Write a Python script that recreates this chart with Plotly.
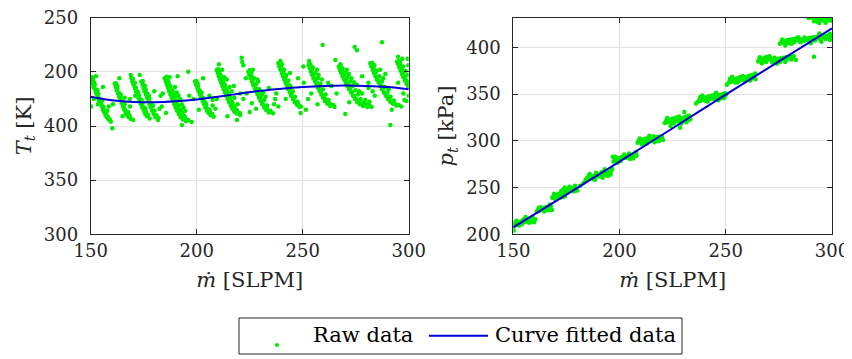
import plotly.graph_objects as go

# ---------------- data ----------------
# Left panel: total temperature raw data (x = mass flow [SLPM], y = T_t)
raw_T = [
    # stripe A
    (150.0,444),(150.4,441),(151.0,439),(151.3,436),(152.0,434),(152.4,431),(153.0,429),(153.5,426),(154.0,423),
    (154.6,421),(155.2,418),(155.8,415),(156.3,413),(157.0,410),(157.6,408),(158.4,406),(159.5,404),(151.6,440),
    (153.2,433),(155.5,424),(157.8,414),(150.2,418),(152.5,446),(153.4,420),(155.8,436),(160.2,398),(158.5,418),(151.5,425),
    (150.6,445),(151.2,442.5),(151.9,438),(152.7,433.5),(153.6,429.5),(154.4,425),(155.0,421.5),(155.9,418),(156.6,414.5),
    (157.3,411.5),(158.1,408.5),(159.0,406),
    # stripe B
    (161.3,439),(161.8,436),(162.3,433),(162.9,430),(163.4,427),(164.0,424),(164.6,421),(165.2,418),(165.8,415),
    (166.5,412),(167.2,410),(168.0,408),(169.0,406.5),(170.0,405.5),(162.6,437),(164.2,429),(166.0,420),(167.6,413),
    (163.5,444),(166.0,426),(168.5,418),(171.0,428),(165.0,409),(160.5,420),
    (161.9,439.5),(162.6,434.5),(163.3,430.5),(164.1,426),(164.9,422.5),(165.6,418.5),(166.3,415),(167.1,412.5),(168.3,410),
    # stripe C
    (169.2,444),(169.6,441),(170.2,438),(170.8,435),(171.3,432),(171.9,429),(172.5,426),(173.1,423),(173.7,420),
    (174.3,417),(175.0,414),(175.7,411),(176.6,409),(177.8,407),(170.8,440),(172.4,431),(174.0,424),(175.8,416),
    (168.9,447),(173.1,447),(176.5,430),(178.5,420),(168.5,425),
    (169.9,443.5),(170.5,439.5),(171.3,435.5),(172.0,432),(172.8,428),(173.6,424.5),(174.4,420.5),(175.2,417),(176.1,413),
    (177.0,410.5),
    # stripe D
    (173.9,441),(174.4,438),(174.9,435),(175.4,432),(176.0,429),(176.6,426),(177.2,423),(177.8,420),(178.4,417),
    (179.0,414),(179.7,411),(180.5,408),(181.7,405.5),(175.6,437),(177.4,428),(179.4,419),(180.0,432),(182.5,416),(183.0,428),
    (174.6,441.5),(175.2,437.5),(176.0,433.5),(176.8,429.5),(177.6,425.5),(178.4,421.5),(179.2,418),(180.1,414),(181.0,410),
    (182.0,407.5),
    # stripe E
    (184.9,444),(185.4,441),(185.9,438),(186.5,435),(187.0,432),(187.6,429),(188.2,426),(188.8,423),(189.4,420),
    (190.0,417),(190.7,414),(191.5,411),(192.4,408),(193.5,406),(195.0,404.5),(186.0,443),(186.8,440),(187.6,437),
    (188.5,433),(189.3,430),(190.1,427),(190.9,423),(191.7,419),(192.5,415),(193.3,412),(194.3,409),(187.2,445),
    (189.8,436),(192.2,425),(194.6,414),(184.0,430),(191.0,446),(196.5,428),(197.6,403.7),(193.0,401),(183.5,418),
    (185.5,412),(196.0,450),
    (185.8,445.5),(186.4,441.5),(187.2,436),(188.0,431),(188.9,427.5),(189.7,423.5),(190.5,419.5),(191.3,415.5),
    (192.1,412),(193.2,409),(194.5,407),(196.0,405.5),(190.6,431),(191.4,428),(193.0,420),(193.8,417),
    # stripe F
    (199.2,441),(199.7,438),(200.3,435),(200.9,432),(201.5,429),(202.1,426),(202.8,423),(203.4,420),(204.1,417),
    (204.8,414),(205.6,412),(206.6,410),(208.0,408.5),(200.5,439),(202.3,431),(204.3,421),(206.0,415),
    (203.0,444),(198.5,425),(206.0,428),(209.5,425),(201.0,415),(207.5,419),
    (199.9,441.5),(200.6,436.5),(201.4,433),(202.0,429.5),(202.9,426),(203.7,422.5),(204.5,419),(205.3,415.5),
    (206.3,413),(207.3,411),
    # stripe G
    (209.4,451.7),(209.9,449),(210.4,446),(210.9,443),(211.5,440),(212.1,437),(212.7,434),(213.3,431),(213.9,428),
    (214.6,425),(215.3,422),(216.0,419),(216.8,416),(217.7,413.5),(218.8,411.5),(220.5,410.2),(210.6,450),(211.6,446),
    (212.4,442),(213.3,438),(214.1,434),(215.0,430),(215.9,426),(216.8,422),(217.7,418),(218.8,415),(212.0,452),
    (214.2,443),(216.5,432),(219.3,420),(210.5,457),(207.5,424),(217.5,437),(220.5,430),(222.0,425),(219.0,405.5),
    (214.5,409),(208.8,416),
    (210.2,452.5),(211.0,448),(211.8,444),(212.6,439.5),(213.5,435),(214.3,431),(215.2,427),(216.1,423),(217.0,419.5),
    (218.0,416.5),(219.0,413.5),(220.3,412),(213.0,445),(215.5,436),(217.8,426),
    # stripe H
    (224.3,450),(224.8,447),(225.4,444),(226.0,441),(226.6,438),(227.3,435),(228.0,432),(228.7,429),(229.4,426),
    (230.1,423),(230.9,420),(231.8,417),(232.8,414.5),(234.0,412.5),(236.0,411.7),(225.8,449),(227.0,444),(228.2,439),
    (229.5,434),(230.7,429),(231.9,424),(233.2,419),(226.5,452),(229.0,441),(232.5,427),(221.2,463),(221.5,459),
    (222.0,456),(223.5,430),(226.0,421),(234.0,435),(237.0,425),(238.5,418),(225.0,413),(228.0,416),(223.2,444),
    (225.0,451.5),(225.8,446.5),(226.5,442.5),(227.4,438.5),(228.3,434.5),(229.2,430.5),(230.1,426.5),(231.0,422.5),
    (232.0,419),(233.2,416),(234.8,414),(228.6,443),(231.3,431),
    # stripe I
    (238.5,457.9),(239.0,455),(239.5,452),(240.1,449),(240.7,446),(241.3,443),(241.9,440),(242.5,437),(243.2,434),
    (243.9,431),(244.6,428),(245.4,425),(246.3,422),(247.3,419.5),(248.5,417.5),(240.2,457),(241.2,452),(242.2,447),
    (243.2,442),(244.2,437),(245.3,432),(246.4,427),(247.6,422.5),(239.5,460),(241.8,445),(244.0,449),(247.8,444),
    (250.3,455),(237.5,430),(236.5,420),(249.0,412),(242.0,425),(250.5,440),
    (239.3,458.5),(240.0,453.5),(240.8,449.5),(241.6,445.5),(242.4,441.5),(243.2,438),(244.0,434),(244.8,430),
    (245.7,426),(246.7,422.5),(247.9,420),(249.2,418),
    # stripe K
    (252.8,456.3),(253.3,453),(253.9,450),(254.5,447),(255.1,444),(255.8,441),(256.5,438),(257.2,435),(258.0,432),
    (258.8,429),(259.6,426),(260.5,423),(261.6,420.5),(263.0,418.5),(265.0,417.5),(254.8,454),(256.0,449),(257.2,444),
    (258.4,439),(259.6,434),(260.8,429),(262.2,424),(253.0,460),(257.5,447),(259.4,474.8),(252.5,425),(254.0,430),
    (257.0,420),(262.0,440),(265.4,461),(263.5,437),(251.5,415),
    (253.6,457),(254.4,452),(255.2,448),(256.0,444),(256.8,440),(257.7,436),(258.6,432),(259.5,428.5),(260.5,425),
    (261.6,422.5),(263.0,420.5),(264.5,419.5),(256.8,452),(259.0,443),
    # stripe L
    (267.0,454.8),(267.5,452),(268.1,449),(268.8,446),(269.5,443),(270.3,440),(271.1,437),(271.9,434),(272.8,431),
    (273.7,428),(274.7,425),(275.8,422),(277.0,420),(278.5,418.5),(280.5,417.5),(282.5,417.5),(268.8,453),(270.0,449),
    (271.2,445),(272.4,441),(273.6,437),(274.8,433),(276.0,429),(277.3,425),(278.8,422),(280.5,420),(267.8,457),
    (270.8,452),(273.0,444),(275.5,438),(278.0,430),(275.6,470),(274.5,473),(270.1,411),(266.0,430),(281.0,440),
    (283.0,432),(272.0,422),(278.0,446),
    (267.9,455.5),(268.7,451),(269.6,447),(270.5,443),(271.4,439),(272.3,435),(273.3,431.5),(274.3,427.5),(275.4,424.5),
    (276.6,422),(278.0,420.5),(279.6,419.5),(281.5,419),(271.8,448),(274.2,440.5),(276.6,432),(279.5,424),(281.5,422.5),
    # stripe M
    (281.9,457.9),(282.4,455),(283.0,452),(283.6,449),(284.3,446),(285.0,443),(285.8,440),(286.6,437),(287.4,434),
    (288.3,431),(289.2,428),(290.2,425),(291.3,422.5),(292.6,420.5),(294.2,419),(296.5,418),(283.8,456),(285.0,451),
    (286.2,446),(287.4,441),(288.7,436),(290.0,431),(291.4,427),(293.0,423.5),(286.5,452),(287.4,477.3),(291.3,401),
    (281.0,435),(284.0,428),(295.0,440),(297.5,430),(289.0,448),(292.0,415),(298.0,424),
    (282.7,458.5),(283.5,453.5),(284.3,449.5),(285.1,445.5),(286.0,441.5),(286.9,437.5),(287.8,434),(288.8,430.5),
    (289.8,427),(290.9,424.5),(292.1,422),(293.5,420.5),(295.3,419.5),(288.0,444),(290.5,434),
    # stripe N
    (294.5,459.4),(295.0,457),(295.6,454),(296.2,451),(296.8,448),(297.5,445),(298.2,442),(299.0,439),(299.8,436),
    (296.0,459),(297.3,455),(298.5,451),(299.5,447),(297.0,462),(299.8,456),(295.0,464),(299.5,462),(300.0,428),(298.8,423),
    (295.3,460),(296.0,456),(296.7,452.5),(297.4,449),(298.2,445.5),(299.0,442),(299.7,440),
]

# Left panel: curve-fitted total temperature
fit_T_x = [150, 160, 170, 180, 190, 200, 210, 220, 230, 240, 250, 260, 270, 280, 290, 300]
fit_T_y = [427, 423.8, 422.2, 421.9, 422.8, 424.5, 427, 429.8, 432.5, 434.5, 436, 437, 437.3, 437, 436, 434]

# Right panel: total pressure raw data
raw_p = [
    (150.2,204),(150.3,209),(150.8,211),(151.3,210),(151.8,212),(152.3,211),(152.9,213),(153.4,212),(153.9,214),
    (154.5,213),(155.0,215),(155.5,213.5),(151.0,213),(152.6,209.5),(154.1,211),
    (156.0,214),(156.5,216),(157.0,215),(157.6,217),(158.2,215.5),(158.8,214),(159.3,216),(159.8,213),(157.2,212.5),
    (155.8,218.5),(160.3,216),
    (161.0,224),(161.6,226),(162.2,225),(162.8,227),(163.4,226),(164.0,228),(164.6,227),(165.2,229),(165.8,228),
    (166.4,229.5),(167.0,228),(167.6,230),(163.0,229),(165.5,225.5),(168.2,226),
    (168.3,239),(168.9,241),(169.5,240),(170.1,242),(170.7,241),(171.3,243),(171.9,242),(172.5,243.5),(173.1,242),
    (173.7,244),(169.8,237.5),(172.0,239),(174.3,241),
    (172.5,246),(173.2,247.5),(173.9,246),(174.6,248),(175.3,247),(176.0,249),(176.7,247.5),(177.4,249.5),(178.1,248),
    (178.8,250),(179.5,248.5),(175.5,244.5),(177.8,246),(180.2,247),(174.2,250),(181.5,252),(183.0,255),
    (184.0,258),(184.6,260),(185.2,259),(185.8,261),(186.4,260),(187.0,262),(187.6,261),(188.2,263),(188.8,262),
    (189.4,264),(186.0,264.5),(188.5,258.5),
    (189.8,262),(190.5,264),(191.2,263),(191.9,265),(192.6,264),(193.3,266),(194.0,265),(194.7,267),(195.4,266),
    (196.1,268),(192.0,260.5),(194.5,262.5),(196.5,270),(193.0,269.5),
    (197.2,278),(197.8,280),(198.4,279),(199.0,281),(199.6,280),(200.2,282),(200.8,281),(201.4,283),(202.0,282),
    (202.6,283.5),(203.2,282),(199.0,276.5),(196.8,283),
    (203.8,284),(204.4,282.5),(205.0,284.5),(205.6,283),(206.2,285),(206.8,283.5),(207.4,285.5),(208.0,284),
    (205.0,280.5),(207.8,288),
    (208.5,298),(209.1,300),(209.7,299),(210.3,301),(210.9,300),(211.5,302),(212.1,301),(212.7,302.5),(213.3,301),
    (213.9,303),(210.5,296.5),(212.8,297.5),
    (214.5,300),(215.1,302),(215.7,301),(216.3,303),(216.9,302),(217.5,304),(218.1,302.5),(218.7,304.5),(219.3,303),
    (219.9,305),(216.5,298.5),(218.5,299.5),(220.5,301),
    (221.3,319),(221.9,321),(222.5,320),(223.1,322),(223.7,321),(224.3,323),(224.9,322),(225.5,324),(226.1,323),
    (226.7,325),(222.5,324.5),(225.5,318.5),(224.0,316),
    (227.3,321),(227.9,323),(228.5,322),(229.1,324),(229.7,323),(230.3,325),(230.9,324),(231.5,326),(232.1,325),
    (232.7,327),(229.0,318.5),(231.5,320),(233.3,323),(228.5,314),(230.5,331),
    (237.0,342),(237.6,344),(238.2,343),(238.8,345),(239.4,344),(240.0,346),(240.6,345),(241.2,347),(241.8,346),
    (242.4,348),(243.0,346.5),(243.6,348.5),(239.0,348.5),(241.5,342),(236.0,340),
    (244.2,345),(244.8,347),(245.4,346),(246.0,348),(246.6,347),(247.2,349),(247.8,348),(248.4,350),(249.0,349),
    (249.6,351),(250.2,349.5),(246.5,343.5),(249.0,345.5),(245.5,351.5),
    (251.2,362),(251.8,364),(252.4,363),(253.0,365),(253.6,364),(254.2,366),(254.8,365),(255.4,367),(256.0,366),
    (256.6,368),(253.0,368.5),(255.5,362.5),(250.5,360),
    (257.2,365),(257.8,367),(258.4,366),(259.0,368),(259.6,367),(260.2,369),(260.8,368),(261.4,370),(262.0,369),
    (262.6,370.5),(263.2,369),(259.0,363.5),(261.5,364.5),(264.0,366),(263.8,372),
    (265.2,385),(265.8,387),(266.4,386),(267.0,388),(267.6,387),(268.2,389),(268.8,388),(269.4,390),(270.0,389),
    (270.6,390.5),(267.0,383),(269.0,384.5),(271.2,388),
    (271.8,384),(272.4,386),(273.0,385),(273.6,387),(274.2,386),(274.8,388),(275.4,387),(276.0,388.5),(276.6,387),
    (277.2,389),(277.8,387.5),(278.4,389.5),(279.0,388),(279.6,390),(280.2,388.5),(280.8,390),(281.4,389),(282.0,390.5),
    (274.0,382.5),(278.0,384.5),(283.0,386.5),
    (275.5,404),(276.2,406),(276.9,405),(277.6,407),(278.3,406),(279.0,408),(279.7,407),(280.4,408.5),(281.1,407),
    (281.8,409),(282.5,407.5),(283.2,409.5),(283.9,408),(284.6,409.5),(278.0,402),(281.0,404),(285.0,405.5),
    (285.5,406),(286.2,408),(286.9,407),(287.6,409),(288.3,408),(289.0,410),(289.7,409),(290.4,410.5),(291.1,409),
    (291.8,411),(292.5,409.5),(293.2,411.5),(293.9,410),(294.6,412),(295.3,410.5),(296.0,412),(296.7,411),(297.4,412.5),
    (298.1,411),(298.8,413),(299.5,411.5),(291.5,390),(290.0,404.5),(295.0,406),(299.0,408),(294.0,415),
    (289.0,431.5),(291.5,428),(292.2,430),(292.9,429),(293.6,431),(294.3,430),(295.0,431),(295.7,429.5),(296.4,431),
    (297.1,430),(297.8,431.5),(298.5,429),(299.2,431),(299.8,428.5),(294.0,426),(297.0,426.5),
    # band thickness
    (151.5,214.5),(153.0,209.8),(154.8,216),(157.8,212.5),(159.0,218),
    (162.0,228.5),(164.5,224.5),(166.8,226),(167.2,232),
    (169.2,243.5),(171.0,239.5),(173.5,239.8),(176.5,251),(178.8,246),(179.0,252),
    (185.5,263),(187.8,259),(189.0,266),(191.5,266.5),(193.8,263),(195.8,264),
    (198.0,283),(200.5,278.5),(202.2,285.5),(204.5,286.5),(206.5,281),
    (209.5,302.5),(211.8,298.5),(214.0,305.5),(216.0,305),(218.0,300.5),(220.0,302),
    (222.2,322.5),(224.5,319.5),(226.5,321.5),(228.0,326),(230.0,321.5),(232.3,322),
    (238.0,347),(240.5,343),(242.5,345),(245.0,349.5),(247.5,345.5),(249.5,347.5),
    (252.0,366.5),(254.5,362.5),(256.5,364.5),(258.0,369.5),(260.5,365.5),(262.5,367),
    (266.0,389.5),(268.5,386),(270.5,387),(273.0,389),(275.5,384.5),(278.5,386.5),(281.0,387),
    (276.5,408.5),(279.5,404.5),(282.0,405.5),(284.0,411),(287.0,410.5),(289.5,406.5),(292.0,407.5),(294.5,408.5),
    (297.0,409),(299.0,414.5),
    (290.5,432),(293.0,427.5),(296.0,428.5),(298.0,433),
]

# Right panel: curve-fitted total pressure
fit_p_x = [150, 175, 200, 225, 250, 275, 300]
fit_p_y = [207.5, 242.5, 277.8, 313.5, 349.5, 385, 420.5]

x_ticks = [150, 200, 250, 300]
T_tickvals = [300, 350, 400, 450, 500]
T_ticktext = ["300", "350", "400", "200", "250"]
p_ticks = [200, 250, 300, 350, 400]

legend_labels = ["Raw data", "Curve fitted data"]

# ---------------- figure ----------------
GREEN = "rgb(0,235,0)"
BLUE = "rgb(0,0,215)"
AX = "#262626"
FONT = "DejaVu Serif, Liberation Serif, serif"
# the page body adds an 8 px margin, so the figure is 8 px smaller and offset by 8 px
OFF = 8
W, H = 852 - OFF, 359 - OFF


def px(xp):
    return (xp - OFF) / W


def py(yp):
    return 1 - (yp - OFF) / H


fig = go.Figure()
fig.add_trace(go.Scatter(x=[p[0] for p in raw_T], y=[p[1] for p in raw_T], mode="markers",
                         marker=dict(color=GREEN, size=4.5), name=legend_labels[0],
                         xaxis="x", yaxis="y", showlegend=False))
fig.add_trace(go.Scatter(x=fit_T_x, y=fit_T_y, mode="lines", line=dict(color=BLUE, width=2, shape="spline"),
                         name=legend_labels[1], xaxis="x", yaxis="y", showlegend=False))
fig.add_trace(go.Scatter(x=[p[0] for p in raw_p], y=[p[1] for p in raw_p], mode="markers",
                         marker=dict(color=GREEN, size=4.5), name=legend_labels[0], showlegend=False,
                         xaxis="x2", yaxis="y2"))
fig.add_trace(go.Scatter(x=fit_p_x, y=fit_p_y, mode="lines", line=dict(color=BLUE, width=2, shape="spline"),
                         name=legend_labels[1], showlegend=False, xaxis="x2", yaxis="y2"))

common = dict(showline=True, linecolor=AX, linewidth=1, mirror="ticks", ticks="inside", ticklen=5,
              tickcolor=AX, showgrid=True, gridcolor="#e3e3e3", gridwidth=1, zeroline=False,
              automargin=False, ticklabeloverflow="allow",
              tickfont=dict(family=FONT, size=18, color=AX))
tfont = dict(family=FONT, size=21, color=AX)
ydom = [py(234.3), py(17.7)]

fig.update_layout(
    width=W, height=H,
    margin=dict(l=0, r=0, t=0, b=0),
    paper_bgcolor="white", plot_bgcolor="white",
    font=dict(family=FONT, size=18, color=AX),
    showlegend=False,
    xaxis=dict(domain=[px(90.7), px(408.7)], range=[150, 300], tickvals=x_ticks, anchor="y",
               title=dict(text="<i>ṁ</i> [SLPM]", standoff=12, font=tfont), **common),
    yaxis=dict(domain=ydom, range=[300, 500], tickvals=T_tickvals, ticktext=T_ticktext, anchor="x",
               ticklabelstandoff=8,
               title=dict(text="<i>T</i><sub><i>t</i></sub> [K]", standoff=6, font=tfont), **common),
    xaxis2=dict(domain=[px(513.3), px(832)], range=[150, 300], tickvals=x_ticks, anchor="y2",
                title=dict(text="<i>ṁ</i> [SLPM]", standoff=12, font=tfont), **common),
    yaxis2=dict(domain=ydom, range=[200, 431.8], tickvals=p_ticks, anchor="x2",
                ticklabelstandoff=8,
                title=dict(text="<i>p</i><sub><i>t</i></sub> [kPa]", standoff=6, font=tfont), **common),
)

# legend box drawn in paper coordinates
fig.add_shape(type="rect", xref="paper", yref="paper", x0=px(239), x1=px(682), y0=py(354), y1=py(318),
              line=dict(color=AX, width=1), fillcolor="white", layer="above")
fig.add_shape(type="circle", xref="paper", yref="paper", x0=px(275.5), x1=px(278.5), y0=py(346.5), y1=py(343.5),
              line=dict(color=GREEN, width=1), fillcolor=GREEN, layer="above")
fig.add_shape(type="line", xref="paper", yref="paper", x0=px(429), x1=px(488), y0=py(335.7), y1=py(335.7),
              line=dict(color=BLUE, width=2), layer="above")
fig.add_annotation(text=legend_labels[0], xref="paper", yref="paper", x=px(311), y=py(335), xanchor="left",
                   yanchor="middle", showarrow=False, font=dict(family=FONT, size=21, color="black"))
fig.add_annotation(text=legend_labels[1], xref="paper", yref="paper", x=px(493), y=py(335), xanchor="left",
                   yanchor="middle", showarrow=False, font=dict(family=FONT, size=21, color="black"))

fig.write_html("out.html")
